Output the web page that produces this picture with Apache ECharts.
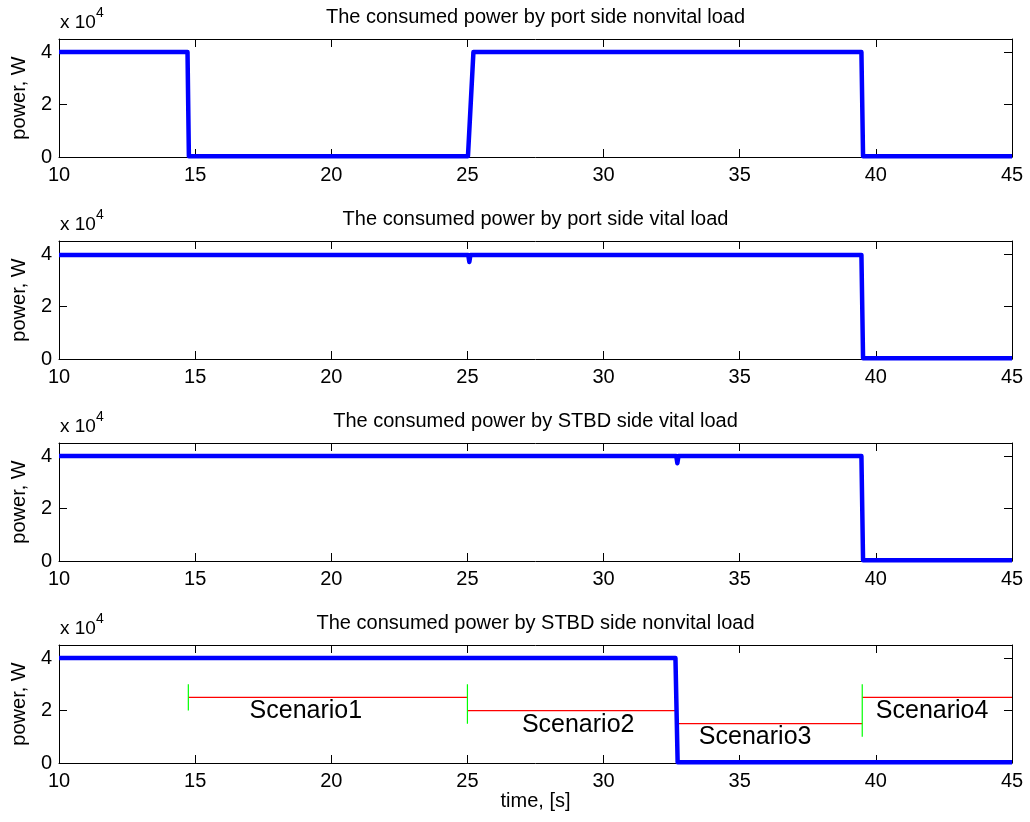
<!DOCTYPE html>
<html>
<head>
<meta charset="utf-8">
<title>Consumed power by load</title>
<script src="https://cdn.jsdelivr.net/npm/echarts@6/dist/echarts.min.js"></script>
<style>
  html, body { margin: 0; padding: 0; background: #fff; }
  #chart { width: 1030px; height: 822px; }
</style>
</head>
<body>
<div id="chart"></div>
<script>
// Panel titles (one per load)
const panelTitles = [
  'The consumed power by port side nonvital load',
  'The consumed power by port side vital load',
  'The consumed power by STBD side vital load',
  'The consumed power by STBD side nonvital load'
];

// Time breakpoints [s] and consumed power [W] for each load
const portNonvitalTime  = [10, 14.72, 14.77, 25.02, 25.22, 39.47, 39.53, 45];
const portNonvitalPower = [40000, 40000, 300, 300, 40000, 40000, 300, 300];

const portVitalTime  = [10, 25.03, 25.07, 25.11, 39.47, 39.53, 45];
const portVitalPower = [39700, 39700, 37000, 39700, 39700, 300, 300];

const stbdVitalTime  = [10, 32.67, 32.71, 32.75, 39.47, 39.53, 45];
const stbdVitalPower = [40000, 40000, 37300, 40000, 40000, 300, 300];

const stbdNonvitalTime  = [10, 32.64, 32.72, 45];
const stbdNonvitalPower = [40000, 40000, 300, 300];

// Scenario spans: start time, end time, level [W]
const scenarioStart = [14.75, 25, 32.68, 39.5];
const scenarioEnd   = [25, 32.68, 39.5, 45];
const scenarioLevel = [25000, 20000, 15000, 25000];

// Scenario boundary markers: time, low, high [W]
const markerTime = [14.75, 25, 39.5];
const markerLow  = [20000, 15000, 10000];
const markerHigh = [30000, 30000, 30000];

// Scenario captions: text, time, level
const scenarioNames = ['Scenario1', 'Scenario2', 'Scenario3', 'Scenario4'];
const scenarioTextTime  = [17.0, 27.0, 33.5, 40.0];
const scenarioTextLevel = [19600, 14400, 10000, 19800];

// Axis settings
const timeMin = 10, timeMax = 45, timeStep = 5;
const powerMin = 0, powerMax = 45000, powerStep = 20000;

const FONT = '"Liberation Sans", Arial, Helvetica, sans-serif';
const INK = '#000';

const panelTimes  = [portNonvitalTime, portVitalTime, stbdVitalTime, stbdNonvitalTime];
const panelPowers = [portNonvitalPower, portVitalPower, stbdVitalPower, stbdNonvitalPower];

const gridTop = [39, 241, 443, 645];
const gridHeight = 118;

const grids = [], xAxes = [], yAxes = [], series = [], titles = [];

gridTop.forEach((top, i) => {
  grids.push({ left: 59, right: 18, top: top, height: gridHeight, containLabel: false });

  const tick = { show: true, inside: true, length: 8, lineStyle: { color: INK, width: 1 } };
  const line = { show: true, onZero: false, lineStyle: { color: INK, width: 1 } };

  // bottom time axis
  xAxes.push({
    type: 'value', gridIndex: i, position: 'bottom',
    min: timeMin, max: timeMax, interval: timeStep,
    axisLine: line, axisTick: tick, splitLine: { show: false },
    axisLabel: { show: true, color: INK, fontFamily: FONT, fontSize: 20, margin: 8 },
    name: i === 3 ? 'time, [s]' : '',
    nameLocation: 'middle', nameGap: 27,
    nameTextStyle: { color: INK, fontFamily: FONT, fontSize: 20 }
  });
  // top axis: box edge with ticks, carries the panel title
  xAxes.push({
    type: 'value', gridIndex: i, position: 'top',
    min: timeMin, max: timeMax, interval: timeStep,
    axisLine: line, axisTick: tick, splitLine: { show: false },
    axisLabel: { show: false },
    name: panelTitles[i], nameLocation: 'middle', nameGap: 12,
    nameTextStyle: { color: INK, fontFamily: FONT, fontSize: 20 }
  });
  // left power axis
  yAxes.push({
    type: 'value', gridIndex: i, position: 'left',
    min: powerMin, max: powerMax, interval: powerStep,
    axisLine: line, axisTick: tick, splitLine: { show: false },
    axisLabel: {
      show: true, color: INK, fontFamily: FONT, fontSize: 20, margin: 7,
      formatter: v => (v % powerStep === 0 ? String(v / 10000) : '')
    },
    name: 'power, W', nameLocation: 'middle', nameGap: 26,
    nameTextStyle: { color: INK, fontFamily: FONT, fontSize: 20 }
  });
  // right axis: box edge with ticks
  yAxes.push({
    type: 'value', gridIndex: i, position: 'right',
    min: powerMin, max: powerMax, interval: powerStep,
    axisLine: line, axisTick: tick, splitLine: { show: false },
    axisLabel: { show: false }
  });

  // exponent label "x 10^4"
  titles.push({
    text: 'x 10', left: 60, top: top - 26, padding: 0,
    textStyle: { color: INK, fontFamily: FONT, fontSize: 19, fontWeight: 'normal' }
  });
  titles.push({
    text: '4', left: 96, top: top - 33, padding: 0,
    textStyle: { color: INK, fontFamily: FONT, fontSize: 14, fontWeight: 'normal' }
  });

  // consumed power trace
  series.push({
    type: 'line', xAxisIndex: 2 * i, yAxisIndex: 2 * i,
    data: panelTimes[i].map((t, k) => [t, panelPowers[i][k]]),
    showSymbol: false, symbol: 'none', animation: false,
    lineStyle: { color: '#0000ff', width: 4.5, join: 'round', cap: 'butt' },
    z: 5
  });
});

// Scenario spans (red) on the last panel
scenarioStart.forEach((s, k) => {
  series.push({
    type: 'line', xAxisIndex: 6, yAxisIndex: 6,
    data: [[s, scenarioLevel[k]], [scenarioEnd[k], scenarioLevel[k]]],
    showSymbol: false, symbol: 'none', animation: false,
    lineStyle: { color: '#ff0000', width: 1.2, opacity: 1 }, z: 3
  });
});

// Scenario boundaries (green)
markerTime.forEach((t, k) => {
  series.push({
    type: 'line', xAxisIndex: 6, yAxisIndex: 6,
    data: [[t, markerLow[k]], [t, markerHigh[k]]],
    showSymbol: false, symbol: 'none', animation: false,
    lineStyle: { color: '#00ff00', width: 1.2, opacity: 1 }, z: 4
  });
});

// Scenario captions
series.push({
  type: 'scatter', xAxisIndex: 6, yAxisIndex: 6,
  symbolSize: 0, animation: false, silent: true,
  itemStyle: { opacity: 1 },
  data: scenarioNames.map((n, k) => ({ value: [scenarioTextTime[k], scenarioTextLevel[k]], name: n })),
  label: {
    show: true, position: [0, 0], align: 'left', verticalAlign: 'middle',
    formatter: p => p.name, opacity: 1,
    color: INK, fontFamily: FONT, fontSize: 25
  },
  z: 6
});

const chart = echarts.init(document.getElementById('chart'), null, { renderer: 'canvas' });
chart.setOption({
  backgroundColor: '#fff',
  animation: false,
  title: titles,
  grid: grids,
  xAxis: xAxes,
  yAxis: yAxes,
  series: series
});
</script>
</body>
</html>
